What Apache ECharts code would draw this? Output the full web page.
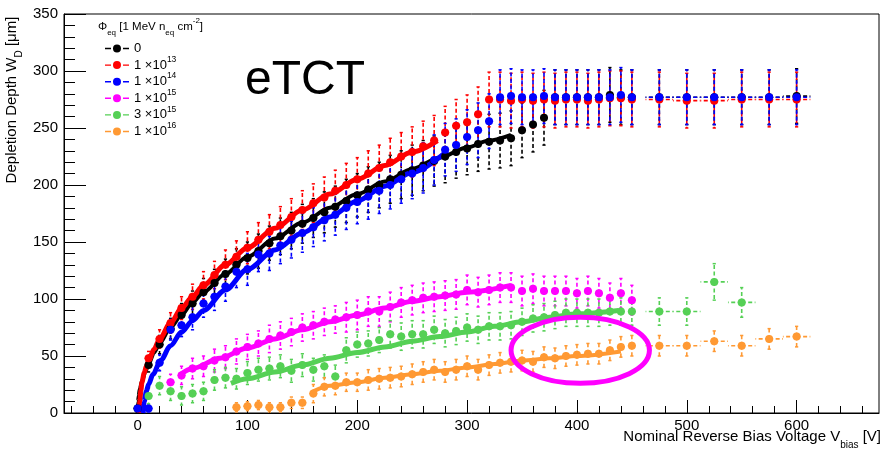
<!DOCTYPE html>
<html><head><meta charset="utf-8">
<script src="https://cdn.jsdelivr.net/npm/echarts@6/dist/echarts.min.js"></script>
<style>html,body{margin:0;padding:0;background:#fff}#c{width:883px;height:450px}</style>
</head><body><div id="c"></div>
<script>
const FONT = "'Liberation Sans', Arial, Helvetica, sans-serif";

// ---------- data ----------
const seriesNames = ['0', '1e13', '1e14', '1e15', '3e15', '1e16'];
const legendLabels = ['{b|0}', '{b|1 ×10}{s|13}', '{b|1 ×10}{s|14}', '{b|1 ×10}{s|15}', '{b|3 ×10}{s|15}', '{b|1 ×10}{s|16}'];
const colors = ['#000000', '#ff0000', '#0000ff', '#ff00ff', '#55d055', '#ff9933'];

const xTickLabels = [0, 100, 200, 300, 400, 500, 600];
const xMinorTicks = [-60,-40,-20,20,40,60,80,120,140,160,180,220,240,260,280,320,340,360,380,420,440,460,480,520,540,560,580,620,640,660];

// points: [V, depth, depth error, voltage error]
const pts0 = [[0,4,3,5],[10,42,6,5],[20,60,8,5],[30,74,9,5],[40,86,10,5],[50,96,11,5],[60,106,12,5],[70,114,12,5],[80,122,13,5],[90,130,14,5],[100,136,14,5],[110,142,15,5],[120,149,15,5],[130,155,16,5],[140,160,16,5],[150,166,17,5],[160,171,17,5],[170,176,18,5],[180,181,18,5],[190,186,19,5],[200,191,19,5],[210,196,20,5],[220,200,20,5],[230,205,21,5],[240,209,21,5],[250,213,22,5],[260,217,22,5],[270,221,22,5],[280,225,23,5],[290,229,23,5],[300,232,23,5],[310,236,24,5],[320,238,24,5],[330,239,24,5],[340,241,24,5],[350,248,24,5],[360,253,24,5],[370,259,24,5],[380,277,24,5],[390,277,24,5],[400,277,24,5],[410,277,24,5],[420,277,24,5],[430,279,24,5],[440,277,24,5],[450,277,24,5],[475,277,24,12.5],[500,277,24,12.5],[525,277,24,12.5],[550,277,24,12.5],[575,277,24,12.5],[600,278,24,12.5]];
const pts13 = [[10,48,6,5],[20,65,8,5],[30,79,9,5],[40,92,10,5],[50,102,11,5],[60,112,12,5],[70,121,12,5],[80,130,13,5],[90,137,14,5],[100,145,14,5],[110,152,15,5],[120,159,15,5],[130,165,16,5],[140,172,16,5],[150,178,17,5],[160,184,17,5],[170,189,18,5],[180,195,18,5],[190,200,19,5],[200,205,19,5],[210,210,20,5],[220,215,20,5],[230,220,21,5],[240,225,21,5],[250,229,22,5],[260,234,22,5],[270,239,22,5],[280,246,23,5],[290,252,23,5],[300,255,24,5],[310,262,24,5],[320,275,24,5],[330,275,24,5],[340,274,24,5],[350,275,24,5],[360,274,24,5],[370,275,24,5],[380,274,24,5],[390,275,24,5],[400,275,24,5],[410,274,24,5],[420,275,24,5],[430,276,24,5],[440,276,24,5],[450,275,24,5],[475,275,24,12.5],[500,274,24,12.5],[525,274,24,12.5],[550,275,24,12.5],[575,275,24,12.5],[600,275,24,12.5]];
const pts14 = [[0,4,3,5],[10,4,3,5],[20,44,7,5],[30,73,9,5],[40,77,10,5],[50,84,11,5],[60,96,12,5],[70,102,12,5],[80,111,13,5],[90,124,14,5],[100,126,14,5],[110,139,15,5],[120,140,15,5],[130,147,16,5],[140,152,16,5],[150,158,17,5],[160,163,17,5],[170,169,18,5],[180,174,18,5],[190,180,19,5],[200,185,19,5],[210,190,20,5],[220,195,20,5],[230,200,21,5],[240,205,21,5],[250,210,22,5],[260,215,22,5],[270,222,22,5],[280,231,23,5],[290,235,23,5],[300,242,24,5],[310,248,24,5],[320,256,24,5],[330,277,24,5],[340,278,24,5],[350,277,24,5],[360,277,24,5],[370,278,24,5],[380,277,24,5],[390,277,24,5],[400,277,24,5],[410,277,24,5],[420,277,24,5],[430,277,24,5],[440,279,24,5],[450,277,24,5],[475,277,24,12.5],[500,277,24,12.5],[525,277,24,12.5],[550,277,24,12.5],[575,277,24,12.5],[600,277,24,12.5]];
const pts15 = [[30,27,7,5],[40,33,8,5],[50,39,9,5],[60,41,9,5],[70,46,10,5],[80,49,10,5],[90,54,11,5],[100,58,11,5],[110,61,11,5],[120,65,12,5],[130,68,12,5],[140,71,12,5],[150,75,12,5],[160,77,12,5],[170,80,12,5],[180,82,12,5],[190,84,13,5],[200,86,13,5],[210,89,13,5],[220,89,13,5],[230,93,13,5],[240,97,13,5],[250,99,13,5],[260,101,13,5],[270,102,13,5],[280,103,13,5],[290,104,13,5],[300,108,13,5],[310,106,13,5],[320,108,13,5],[330,110,13,5],[340,110,13,5],[350,107,13,5],[360,109,13,5],[370,107,13,5],[380,107,13,5],[390,107,13,5],[400,105,13,5],[410,107,13,5],[420,105,13,5],[430,101,13,5],[440,105,13,5],[450,99,13,5]];
const pts3e15 = [[10,15,7,5],[20,24,8,5],[30,19,8,5],[40,15,8,5],[50,17,8,5],[60,19,8,5],[70,29,9,5],[80,31,9,5],[90,30,9,5],[100,35,10,5],[110,38,10,5],[120,39,10,5],[130,41,10,5],[140,37,10,5],[150,42,10,5],[160,38,10,5],[170,41,10,5],[180,32,10,5],[190,55,11,5],[200,60,11,5],[210,61,11,5],[220,64,11,5],[230,69,12,5],[240,67,12,5],[250,69,12,5],[260,69,12,5],[270,73,12,5],[280,70,12,5],[290,72,12,5],[300,75,12,5],[310,73,12,5],[320,76,12,5],[330,76,12,5],[340,77,12,5],[350,80,12,5],[360,83,12,5],[370,84,12,5],[380,86,12,5],[390,88,12,5],[400,88,12,5],[410,88,12,5],[420,88,12,5],[430,89,12,5],[440,89,12,5],[450,89,12,5],[475,89,12,12.5],[500,89,12,12.5],[525,115,16,12.5],[550,97,13,12.5]];
const pts16 = [[90,5,4,5],[100,6,4,5],[110,7,4,5],[120,5,4,5],[130,5,4,5],[140,9,5,5],[150,9,5,5],[160,17,8,5],[170,23,8,5],[180,24,8,5],[190,27,8,5],[200,27,8,5],[210,29,9,5],[220,30,9,5],[230,31,9,5],[240,32,9,5],[250,34,9,5],[260,36,9,5],[270,38,9,5],[280,36,9,5],[290,38,9,5],[300,41,9,5],[310,38,9,5],[320,42,9,5],[330,44,9,5],[340,45,9,5],[350,46,9,5],[360,45,9,5],[370,49,9,5],[380,48,9,5],[390,50,9,5],[400,51,9,5],[410,52,9,5],[420,52,9,5],[430,55,9,5],[440,58,9,5],[450,59,9,5],[475,59,9,12.5],[500,59,9,12.5],[525,63,9,12.5],[550,59,9,12.5],[575,65,9,12.5],[600,67,9,12.5]];

// fitted curves: [V, depth]
const fit0 = [[0,0],[0.5,10],[1,15],[2,21],[4,28],[7,36],[10,43],[15,53],[20,61],[30,75],[40,86],[50,97],[60,106],[80,122],[100,137],[125,153],[150,167],[175,180],[200,192],[225,203],[250,214],[275,224],[300,233],[320,239],[340,244]];
const fit13 = [[1.5,0],[2,10],[3,20],[4,27],[6,35],[8,41],[10,46],[15,56],[20,65],[30,79],[40,92],[50,102],[60,112],[80,130],[100,145],[125,162],[150,178],[175,192],[200,205],[225,217],[250,229],[273,239]];
const fit14 = [[5,0],[6,10],[8,19],[10,25],[14,34],[21,46],[30,59],[40,71],[50,81],[60,90],[80,108],[100,126],[125,143],[150,158],[175,172],[200,186],[225,199],[250,211],[282,230]];
const fit15 = [[38,33],[50,39],[75,48],[100,57],[125,65],[150,73],[175,80],[200,86],[225,92],[250,98],[275,102],[300,106],[340,112]];
const fit3e15 = [[85,26],[100,30],[125,36],[150,42],[175,48],[200,53],[225,58],[250,63],[275,67],[300,71],[325,76],[350,80],[375,84],[400,87],[438,90]];
const fit16 = [[160,19],[175,24],[200,27],[225,31],[250,34],[275,37],[300,40],[325,43],[350,46],[375,48],[400,50],[440,54]];

const fitWidths = [4, 5, 5, 5, 5, 4];
const ellipseCenter = [403, 55];
const ellipseHalf = [63, 29];

// ---------- build ----------
const allPts = [pts0, pts13, pts14, pts15, pts3e15, pts16];
const allFits = [fit0, fit13, fit14, fit15, fit3e15, fit16];

function makeErr(color) {
  return function (params, api) {
    const x = api.value(0), y = api.value(1), ey = api.value(2), ex = api.value(3);
    const p = api.coord([x, y]);
    const t = api.coord([x, y + ey]);
    const b = api.coord([x, y - ey]);
    const l = api.coord([x - ex, y]);
    const r = api.coord([x + ex, y]);
    const st = { stroke: color, lineWidth: 1.6, lineDash: [4, 2.5] };
    const cs = { stroke: color, lineWidth: 1.5 };
    return {
      type: 'group', children: [
        { type: 'line', shape: { x1: p[0], y1: p[1], x2: p[0], y2: t[1] }, style: st },
        { type: 'line', shape: { x1: p[0], y1: p[1], x2: p[0], y2: b[1] }, style: st },
        { type: 'line', shape: { x1: p[0], y1: p[1], x2: l[0], y2: p[1] }, style: st },
        { type: 'line', shape: { x1: p[0], y1: p[1], x2: r[0], y2: p[1] }, style: st },
        { type: 'line', shape: { x1: p[0] - 1.6, y1: t[1], x2: p[0] + 1.6, y2: t[1] }, style: cs },
        { type: 'line', shape: { x1: p[0] - 1.6, y1: b[1], x2: p[0] + 1.6, y2: b[1] }, style: cs }
      ]
    };
  };
}

const series = [];
seriesNames.forEach((nm, i) => {
  series.push({
    type: 'custom', name: nm + '_err', data: allPts[i], renderItem: makeErr(colors[i]),
    clip: true, silent: true, encode: { x: 0, y: 1 }, z: 2
  });
  series.push({
    type: 'scatter', name: nm, data: allPts[i].map(d => [d[0], d[1]]), symbol: 'circle', symbolSize: 8,
    itemStyle: { color: colors[i], opacity: 1 }, clip: true, silent: true, z: 2
  });
  series.push({
    type: 'line', name: nm + '_fit', data: allFits[i], showSymbol: false, symbol: 'none',
    smooth: 0.3, smoothMonotone: 'x', clip: true, silent: true,
    lineStyle: { color: colors[i], width: fitWidths[i], opacity: 1 }, itemStyle: { color: colors[i] }, z: 2
  });
});

const axisTextBase = { fontFamily: FONT, color: '#000' };

const option = {
  animation: false,
  backgroundColor: '#ffffff',
  grid: { left: 64, right: 4, top: 14, bottom: 37, show: true, borderColor: '#000', borderWidth: 1, containLabel: false, outerBoundsMode: 'none' },
  xAxis: [{
    type: 'value', min: -67, max: 675, position: 'bottom',
    axisLine: { show: true, onZero: false, lineStyle: { color: '#000', width: 1 } },
    axisTick: { show: true, inside: true, length: 13, customValues: xTickLabels, lineStyle: { color: '#000', width: 1 } },
    axisLabel: Object.assign({ show: true, fontSize: 15, margin: 5, customValues: xTickLabels }, axisTextBase),
    splitLine: { show: false }
  }, {
    type: 'value', min: -67, max: 675, position: 'bottom', offset: 0,
    axisLine: { show: false, onZero: false },
    axisTick: { show: true, inside: true, length: 7, customValues: xMinorTicks, lineStyle: { color: '#000', width: 1 } },
    axisLabel: { show: false },
    splitLine: { show: false }
  }],
  yAxis: {
    type: 'value', min: 0, max: 350, interval: 50,
    axisLine: { show: true, onZero: false, lineStyle: { color: '#000', width: 1 } },
    axisTick: { show: true, inside: true, length: 22, lineStyle: { color: '#000', width: 1 } },
    minorTick: { show: true, splitNumber: 5, length: 11, lineStyle: { color: '#000', width: 1 } },
    axisLabel: Object.assign({ fontSize: 15, margin: 6, showMinLabel: true, showMaxLabel: true }, axisTextBase),
    splitLine: { show: false }, minorSplitLine: { show: false }
  },
  legend: {
    show: true, orient: 'vertical', left: 100, top: 37, itemWidth: 24, itemHeight: 8, itemGap: 0,
    selectedMode: false, data: seriesNames,
    icon: 'path://M0,3.3L6,3.3L6,4.7L0,4.7Z M18,3.3L24,3.3L24,4.7L18,4.7Z M12,0A4,4,0,1,1,11.99,0Z',
    formatter: function (name) { return legendLabels[seriesNames.indexOf(name)]; },
    textStyle: {
      fontFamily: FONT, fontSize: 13, color: '#000',
      rich: {
        b: { fontFamily: FONT, fontSize: 13, color: '#000', lineHeight: 20.2, verticalAlign: 'middle' },
        s: { fontFamily: FONT, fontSize: 8.5, color: '#000', lineHeight: 12, verticalAlign: 'top' }
      }
    }
  },
  graphic: {
    elements: [
      {
        type: 'text', id: 'etct', x: 245, y: 81, z: 50,
        style: { text: 'eTCT', fontFamily: FONT, fontSize: 48, fill: '#000', align: 'left', verticalAlign: 'middle' }
      },
      {
        type: 'text', id: 'legtitle', x: 98, y: 27, z: 50,
        style: {
          text: '{b|Φ}{d|eq}{b| [1 MeV n}{d|eq}{b| cm}{u|-2}{b|]}', align: 'left', verticalAlign: 'middle',
          fontFamily: FONT, fontSize: 11.5, fill: '#000',
          rich: {
            b: { fontFamily: FONT, fontSize: 11.5, fill: '#000', lineHeight: 20, verticalAlign: 'middle' },
            d: { fontFamily: FONT, fontSize: 8, fill: '#000', lineHeight: 9, verticalAlign: 'bottom' },
            u: { fontFamily: FONT, fontSize: 8, fill: '#000', lineHeight: 11, verticalAlign: 'top' }
          }
        }
      },
      {
        type: 'text', id: 'xtitle', x: 881, y: 437, z: 50,
        style: {
          text: '{b|Nominal Reverse Bias Voltage V}{d|bias}{b| [V]}', align: 'right', verticalAlign: 'middle',
          fontFamily: FONT, fontSize: 15, fill: '#000',
          rich: {
            b: { fontFamily: FONT, fontSize: 15, fill: '#000', lineHeight: 26, verticalAlign: 'middle' },
            d: { fontFamily: FONT, fontSize: 10, fill: '#000', lineHeight: 8, verticalAlign: 'bottom' }
          }
        }
      },
      {
        type: 'text', id: 'ytitle', x: 12, y: 100, rotation: Math.PI / 2, z: 50,
        style: {
          text: '{b|Depletion Depth W}{d|D}{b| [μm]}', align: 'center', verticalAlign: 'middle',
          fontFamily: FONT, fontSize: 15, fill: '#000',
          rich: {
            b: { fontFamily: FONT, fontSize: 15, fill: '#000', lineHeight: 24, verticalAlign: 'middle' },
            d: { fontFamily: FONT, fontSize: 10, fill: '#000', lineHeight: 8, verticalAlign: 'bottom' }
          }
        }
      }
    ]
  },
  series: series
};

const chart = echarts.init(document.getElementById('c'), null, { renderer: 'canvas' });
chart.setOption(option);
const cp = chart.convertToPixel({ xAxisIndex: 0, yAxisIndex: 0 }, ellipseCenter);
const ep = chart.convertToPixel({ xAxisIndex: 0, yAxisIndex: 0 }, [ellipseCenter[0] + ellipseHalf[0], ellipseCenter[1] + ellipseHalf[1]]);
chart.setOption({
  graphic: {
    elements: [{
      type: 'ellipse', id: 'ell', z: 60, silent: true,
      shape: { cx: cp[0], cy: cp[1], rx: Math.abs(ep[0] - cp[0]), ry: Math.abs(ep[1] - cp[1]) },
      style: { fill: 'none', stroke: '#ff00ff', lineWidth: 5 }
    }]
  }
});
</script></body></html>
